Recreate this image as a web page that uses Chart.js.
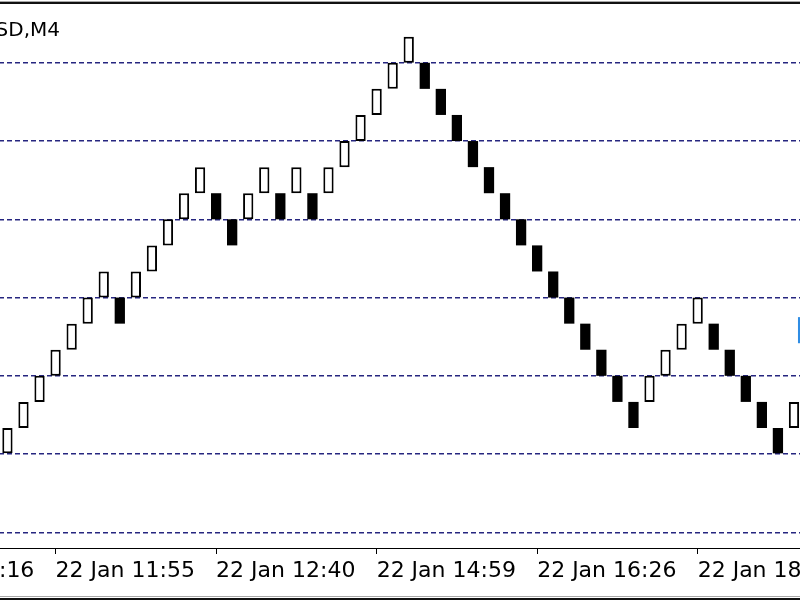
<!DOCTYPE html>
<html>
<head>
<meta charset="utf-8">
<title>Renko chart</title>
<script src="https://cdn.jsdelivr.net/npm/chart.js@4/dist/chart.umd.min.js"></script>
<style>
  html, body { margin: 0; padding: 0; background: #fff; overflow: hidden; }
  #wrap { position: relative; width: 800px; height: 600px; overflow: hidden; }
  /* the chart is wider than the window, like a cropped terminal screenshot */
  #chart { position: absolute; left: -129px; top: 0; }
</style>
</head>
<body>
<div id="wrap"><canvas id="chart" width="931" height="600"></canvas></div>
<script>
// symbol and timeframe in the corner
const chartTitle = 'EURUSD,M4';

// renko bricks from left to right: bottom level of each brick (in brick units)
const brickLow = [0, 1, 2, 3, 4, 5, 6, 5, 6, 7, 8, 9, 10, 9, 8, 9, 10, 9, 10, 9,
  10, 11, 12, 13, 14, 15, 14, 13, 12, 11, 10, 9, 8, 7, 6, 5, 4, 3, 2, 1,
  2, 3, 4, 5, 4, 3, 2, 1, 0, 1];
// 1 = up brick (white), 0 = down brick (black)
const brickUp = [1, 1, 1, 1, 1, 1, 1, 0, 1, 1, 1, 1, 1, 0, 0, 1, 1, 0, 1, 0,
  1, 1, 1, 1, 1, 1, 0, 0, 0, 0, 0, 0, 0, 0, 0, 0, 0, 0, 0, 0,
  1, 1, 1, 1, 0, 0, 0, 0, 0, 1];

// time axis: which brick carries a label, and the label text
const tickBricks = [-7, 3, 13, 23, 33, 43];
const tickTexts = ['22 Jan 11:16', '22 Jan 11:55', '22 Jan 12:40', '22 Jan 14:59', '22 Jan 16:26', '22 Jan 18:05'];

// dashed price levels, every 3 bricks
const gridLevels = [-3, 0, 3, 6, 9, 12, 15];

// blue price marker cut by the right edge
const markerRange = [4.25, 5.25];

// empty slots before the first brick (off screen on the left)
const lead = 8;

const labels = Array.from({ length: lead + brickLow.length }, (_, k) => {
  const i = tickBricks.indexOf(k - lead);
  return i >= 0 ? tickTexts[i] : '';
});
const bricks = Array(lead).fill(null).concat(brickLow.map((l) => [l, l + 1]));
const upFlags = Array(lead).fill(1).concat(brickUp);

// frame lines, title text and the marker
const decorations = {
  id: 'decorations',
  afterDraw(chart) {
    const { ctx, width, chartArea } = chart;
    const xs = chart.scales.x;
    const ys = chart.scales.y;
    ctx.save();
    ctx.fillStyle = '#a8a8a8';
    ctx.fillRect(0, 1, width, 1);
    ctx.fillRect(0, 596, width, 1);
    ctx.fillStyle = '#111';
    ctx.fillRect(0, 2, width, 2);
    ctx.fillRect(0, 598, width, 2);

    ctx.fillStyle = '#000';
    ctx.font = '20px "DejaVu Sans"';
    ctx.textAlign = 'right';
    ctx.textBaseline = 'alphabetic';
    ctx.fillText(chartTitle, chartArea.left + 189, 36);

    const mx = xs.getPixelForValue(labels.length - 1) + 4;
    const top = ys.getPixelForValue(markerRange[1]);
    const bottom = ys.getPixelForValue(markerRange[0]);
    ctx.fillStyle = '#2f8de4';
    ctx.fillRect(mx, top, 10, bottom - top);
    ctx.restore();
  },
};

new Chart(document.getElementById('chart'), {
  type: 'bar',
  data: {
    labels,
    datasets: [{
      label: 'Renko',
      data: bricks,
      backgroundColor: upFlags.map((u) => (u ? '#fff' : '#000')),
      borderColor: '#000',
      // down bricks are plain black blocks, up bricks are outlined
      borderWidth: upFlags.map((u) => (u ? 2 : 0)),
      borderSkipped: false,
      barPercentage: 0.64,
      categoryPercentage: 1,
    }],
  },
  options: {
    responsive: false,
    animation: false,
    events: [],
    layout: { padding: { top: 8, left: 0, right: 0, bottom: 0 } },
    plugins: {
      legend: { display: false },
      tooltip: { enabled: false },
    },
    scales: {
      x: {
        offset: true,
        afterFit: (scale) => { scale.height = 52; },
        border: { display: true, color: '#000', width: 1 },
        grid: {
          offset: false,
          drawOnChartArea: false,
          drawTicks: true,
          tickLength: 6,
          tickWidth: 1,
          tickColor: (ctx) => (labels[ctx.index] ? '#000' : 'rgba(0,0,0,0)'),
        },
        ticks: {
          autoSkip: false,
          maxRotation: 0,
          minRotation: 0,
          align: 'start',
          padding: 4,
          color: '#000',
          font: { family: 'DejaVu Sans', size: 22 },
        },
      },
      y: {
        position: 'right',
        min: -3.6,
        max: 17.1,
        afterBuildTicks: (scale) => { scale.ticks = gridLevels.map((v) => ({ value: v })); },
        afterFit: (scale) => { scale.width = 0; },
        border: { display: false, dash: [5, 3] },
        grid: {
          drawTicks: false,
          color: '#262680',
          lineWidth: 1.5,
        },
        ticks: { display: false },
      },
    },
  },
  plugins: [decorations],
});
</script>
</body>
</html>
